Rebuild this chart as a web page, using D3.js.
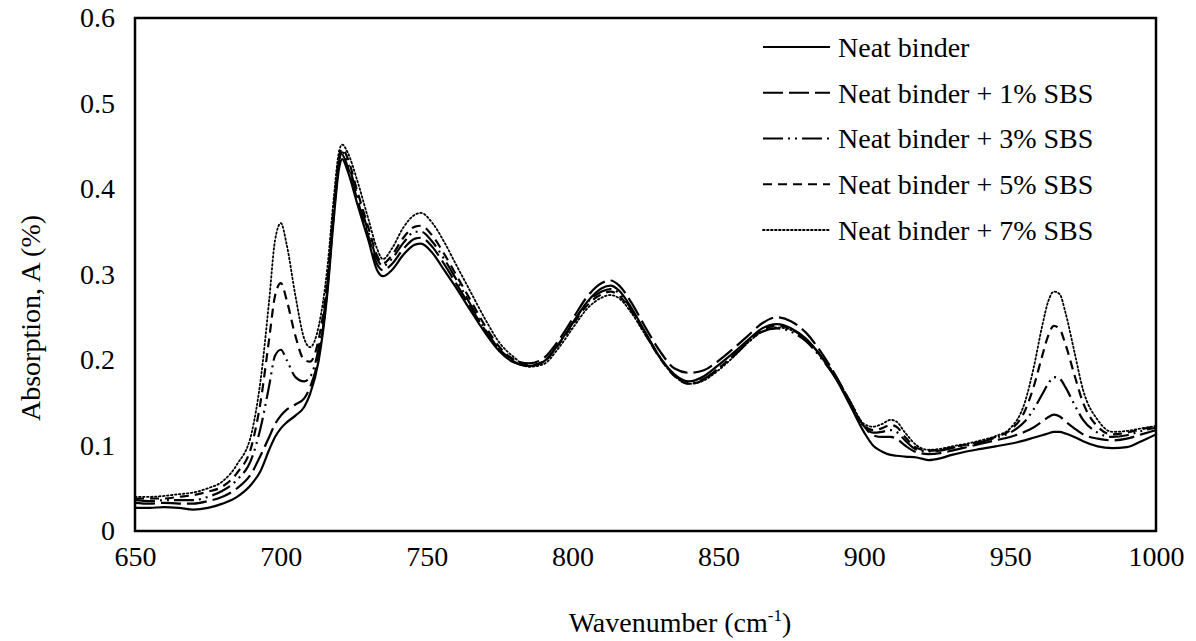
<!DOCTYPE html>
<html>
<head>
<meta charset="utf-8">
<script src="https://cdn.jsdelivr.net/npm/d3@7"></script>
<style>
  html, body { margin: 0; padding: 0; background: #fff; }
  svg { display: block; }
  text { font-family: "Liberation Serif", "Times New Roman", serif; fill: #000; }
</style>
</head>
<body>
<svg id="chart" width="1196" height="641"></svg>
<script>
// ---- Data ----
const wavenumber = [650,655,660,665,670,675,680,685,690,693,696,698,700,702,705,708,710,713,716,718,720,721,723,726,730,733,735,738,742,746,748,752,756,760,765,770,775,780,785,790,795,800,805,810,813,816,820,825,830,835,840,845,850,855,860,865,870,875,880,885,890,895,900,903,906,909,911,914,918,922,926,930,935,940,945,950,955,958,961,963,965,967,969,972,975,980,985,990,995,1000];

const neat = [.027,.027,.028,.027,.025,.027,.032,.04,.055,.07,.095,.11,.12,.127,.135,.145,.16,.2,.28,.36,.425,.435,.42,.385,.34,.305,.298,.305,.323,.335,.336,.325,.305,.285,.258,.232,.21,.197,.193,.198,.218,.243,.268,.284,.287,.281,.262,.232,.203,.183,.175,.181,.194,.208,.223,.237,.242,.237,.225,.205,.18,.148,.115,.1,.093,.089,.088,.087,.086,.083,.085,.089,.093,.096,.099,.102,.106,.109,.112,.114,.116,.116,.114,.11,.105,.099,.097,.098,.105,.113];

const sbs1 = [.033,.032,.033,.032,.032,.035,.04,.05,.068,.088,.11,.125,.135,.142,.148,.155,.168,.205,.285,.365,.43,.44,.425,.39,.345,.312,.305,.312,.33,.342,.343,.332,.312,.29,.262,.235,.212,.2,.196,.202,.222,.248,.274,.29,.293,.287,.268,.238,.21,.19,.185,.188,.199,.213,.228,.243,.25,.245,.232,.21,.183,.152,.122,.112,.11,.11,.108,.1,.092,.09,.091,.094,.098,.102,.106,.11,.116,.121,.128,.133,.136,.134,.128,.12,.113,.108,.106,.108,.113,.118];

const sbs3 = [.036,.035,.036,.036,.036,.04,.047,.06,.085,.12,.17,.205,.212,.2,.18,.175,.18,.215,.29,.37,.433,.443,.43,.395,.35,.318,.31,.318,.337,.35,.35,.338,.318,.295,.265,.236,.212,.198,.193,.198,.218,.243,.267,.28,.283,.278,.26,.231,.203,.182,.173,.178,.19,.204,.22,.233,.237,.233,.222,.203,.18,.15,.122,.115,.116,.118,.116,.106,.095,.093,.094,.097,.1,.104,.109,.115,.128,.142,.16,.172,.18,.178,.168,.148,.13,.115,.11,.112,.117,.121];

const sbs5 = [.038,.038,.038,.04,.042,.046,.052,.068,.1,.15,.225,.275,.29,.27,.228,.2,.198,.225,.295,.373,.438,.447,.435,.4,.355,.322,.313,.322,.343,.356,.357,.345,.324,.3,.27,.24,.215,.2,.194,.198,.217,.241,.264,.277,.28,.275,.258,.23,.202,.181,.172,.177,.19,.205,.221,.235,.24,.236,.224,.205,.18,.15,.123,.118,.12,.124,.122,.11,.097,.094,.095,.098,.101,.105,.11,.118,.14,.168,.205,.228,.24,.236,.218,.183,.15,.122,.113,.115,.119,.122];

const sbs7 = [.04,.04,.041,.043,.045,.05,.058,.078,.115,.175,.27,.34,.36,.335,.275,.225,.215,.24,.31,.385,.445,.452,.442,.412,.365,.33,.318,.33,.355,.37,.372,.36,.338,.312,.28,.248,.22,.203,.192,.195,.213,.237,.26,.273,.276,.272,.256,.229,.202,.181,.172,.176,.188,.203,.22,.233,.238,.235,.224,.206,.182,.153,.125,.122,.125,.13,.128,.115,.1,.095,.096,.099,.102,.106,.111,.12,.15,.19,.24,.268,.28,.277,.255,.21,.165,.13,.116,.117,.12,.123];

const seriesNames = ["Neat binder", "Neat binder + 1% SBS", "Neat binder + 3% SBS", "Neat binder + 5% SBS", "Neat binder + 7% SBS"];
const seriesValues = [neat, sbs1, sbs3, sbs5, sbs7];
const xTicks = [650,700,750,800,850,900,950,1000];
const yTicks = [0,0.1,0.2,0.3,0.4,0.5,0.6];

// ---- Styles ----
const dashes = [null, "20,6", "20,5,2,5,2,5", "9,6", "1.6,2.4"];
const widths = [2.2, 2.2, 2.2, 2.2, 1.8];
const FS = "28px";

// ---- Layout ----
const svg = d3.select("#chart");
const L = 135, R = 1156, T = 18, B = 531;
const x = d3.scaleLinear().domain([650, 1000]).range([L, R]);
const y = d3.scaleLinear().domain([0, 0.6]).range([B, T]);

svg.append("clipPath").attr("id", "clip")
  .append("rect").attr("x", L).attr("y", T).attr("width", R - L).attr("height", B - T);

// axes (no tick marks, labels only)
const xAxis = svg.append("g").attr("transform", `translate(0,${B})`)
  .call(d3.axisBottom(x).tickValues(xTicks).tickSize(0).tickPadding(15).tickFormat(d3.format("d")));
const yAxis = svg.append("g").attr("transform", `translate(${L},0)`)
  .call(d3.axisLeft(y).tickValues(yTicks).tickSize(0).tickPadding(20).tickFormat(d => d === 0 ? "0" : d3.format(".1f")(d)));
[xAxis, yAxis].forEach(g => {
  g.select(".domain").remove();
  g.selectAll("text").style("font-family", "'Liberation Serif', serif").style("font-size", FS).attr("fill", "#000");
});

// lines
const lineGroup = svg.append("g").attr("clip-path", "url(#clip)");
seriesValues.forEach((vals, i) => {
  const line = d3.line()
    .x((d, j) => x(wavenumber[j]))
    .y(d => y(d))
    .curve(d3.curveMonotoneX);
  lineGroup.append("path")
    .datum(vals)
    .attr("d", line)
    .attr("fill", "none")
    .attr("stroke", "#000")
    .attr("stroke-width", widths[i])
    .attr("stroke-linecap", i === 4 ? "round" : "butt")
    .attr("stroke-dasharray", dashes[i]);
});

// frame
svg.append("rect").attr("x", L).attr("y", T).attr("width", R - L).attr("height", B - T)
  .attr("fill", "none").attr("stroke", "#000").attr("stroke-width", 2.5);

// legend
const legend = svg.append("g");
seriesNames.forEach((name, i) => {
  const ly = 47 + i * 45.75;
  legend.append("line")
    .attr("x1", 763).attr("x2", 830).attr("y1", ly).attr("y2", ly)
    .attr("stroke", "#000").attr("stroke-width", widths[i])
    .attr("stroke-linecap", i === 4 ? "round" : "butt")
    .attr("stroke-dasharray", dashes[i]);
  legend.append("text").attr("x", 838).attr("y", ly).attr("dy", "0.35em")
    .style("font-size", FS).text(name);
});

// axis titles
svg.append("text")
  .attr("transform", `translate(30,318) rotate(-90)`)
  .attr("text-anchor", "middle").attr("dy", "0.35em")
  .style("font-size", FS).text("Absorption, A (%)");

const xt = svg.append("text")
  .attr("x", 680).attr("y", 632)
  .attr("text-anchor", "middle")
  .style("font-size", FS);
xt.append("tspan").text("Wavenumber (cm");
xt.append("tspan").attr("dy", -11).style("font-size", "17px").text("-1");
xt.append("tspan").attr("dy", 11).text(")");
</script>
</body>
</html>
